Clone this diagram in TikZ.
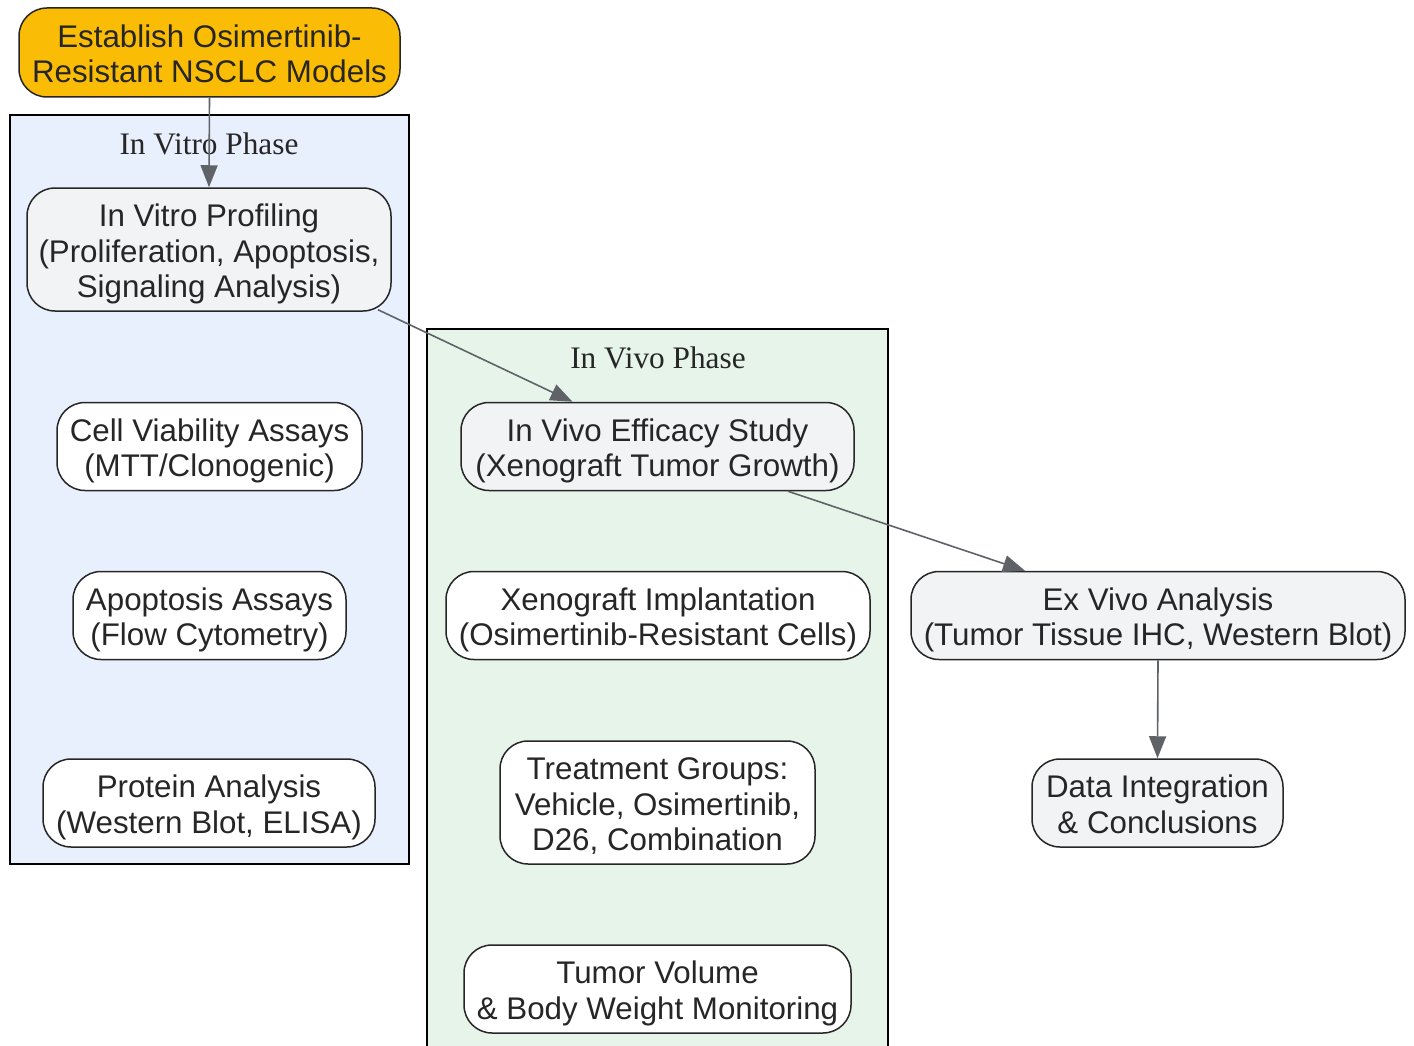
\documentclass[tikz,border=0pt]{standalone}
\usepackage{fontspec}
\setmainfont{Liberation Sans}
\newfontfamily\clfont{Liberation Serif}
\usetikzlibrary{arrows.meta}
\definecolor{amber}{HTML}{FBBC05}
\definecolor{vitrobg}{HTML}{E8F0FE}
\definecolor{vivobg}{HTML}{E6F4EA}
\definecolor{graybox}{HTML}{F1F3F4}
\definecolor{edgec}{HTML}{5F6368}
\definecolor{txt}{HTML}{262626}
\newcommand\topst{\rule{0pt}{32pt}}
\newcommand\botst{\rule[-7pt]{0pt}{7pt}}
\begin{document}
\begin{tikzpicture}[x=1pt,y=-1pt,
  box/.style={draw=txt, line width=1.5pt, rounded corners=28pt, align=center,
    font=\fontsize{31.3}{35.5}\selectfont, text=txt, inner sep=0pt, fill=white},
  graynode/.style={box, fill=graybox},
  cluster/.style={draw=black, line width=1.6pt},
  cltitle/.style={font=\clfont\fontsize{31.3}{36}\selectfont, text=txt},
  conn/.style={draw=edgec, line width=1.6pt, -{Triangle[length=22pt,width=17pt]}}]
\useasboundingbox (0,0) rectangle (1414,1046);
\fill[white] (0,0) rectangle (1414,1046);
% clusters
\draw[cluster, fill=vitrobg] (10,115) rectangle (409,864);
\begin{scope}
\clip (0,0) rectangle (1414,1046);
\draw[cluster, fill=vivobg] (427,329) rectangle (888,1060);
\end{scope}
\node[cltitle] (tvitro) at (209,144) {In Vitro Phase};
\node[cltitle] (tvivo) at (658,358) {In Vivo Phase};
% nodes
\node[box, fill=amber, minimum width=381pt, minimum height=89pt] (est) at (209.5,52.5) {\topst Establish Osimertinib-\\Resistant NSCLC Models\botst};
\node[graynode, minimum width=364pt, minimum height=123pt] (prof) at (209,249.5) {\topst In Vitro Profiling\\(Proliferation, Apoptosis,\\Signaling Analysis)\botst};
\node[box, minimum width=305pt, minimum height=88pt] (via) at (209.5,446.5) {\topst Cell Viability Assays\\(MTT/Clonogenic)\botst};
\node[box, minimum width=273pt, minimum height=88pt] (apo) at (209.5,615.5) {\topst Apoptosis Assays\\(Flow Cytometry)\botst};
\node[box, minimum width=332pt, minimum height=88pt] (prot) at (209,803) {\topst Protein Analysis\\(Western Blot, ELISA)\botst};
\node[graynode, minimum width=393pt, minimum height=88pt] (eff) at (657.5,446.5) {\topst In Vivo Efficacy Study\\(Xenograft Tumor Growth)\botst};
\node[box, minimum width=424pt, minimum height=88pt] (xeno) at (658,615.5) {\topst Xenograft Implantation\\(Osimertinib-Resistant Cells)\botst};
\node[box, minimum width=315pt, minimum height=123pt] (treat) at (657.5,802.5) {\topst Treatment Groups:\\Vehicle, Osimertinib,\\D26, Combination\botst};
\node[box, minimum width=387pt, minimum height=88pt] (tum) at (657.5,989) {\topst Tumor Volume\\\& Body Weight Monitoring\botst};
\node[graynode, minimum width=494pt, minimum height=88pt] (exv) at (1158,615.5) {\topst Ex Vivo Analysis\\(Tumor Tissue IHC, Western Blot)\botst};
\node[graynode, minimum width=251pt, minimum height=88pt] (data) at (1157.5,803) {\topst Data Integration\\\& Conclusions\botst};
% connectors
\draw[conn] (est.south) -- (prof.north);
\draw[conn] ([xshift=169pt,yshift=2pt]prof.south) -- ([xshift=-85pt]eff.north);
\draw[conn] ([xshift=130.5pt]eff.south) -- ([xshift=-133pt]exv.north);
\draw[conn] (exv.south) -- (data.north);
\end{tikzpicture}
\end{document}
